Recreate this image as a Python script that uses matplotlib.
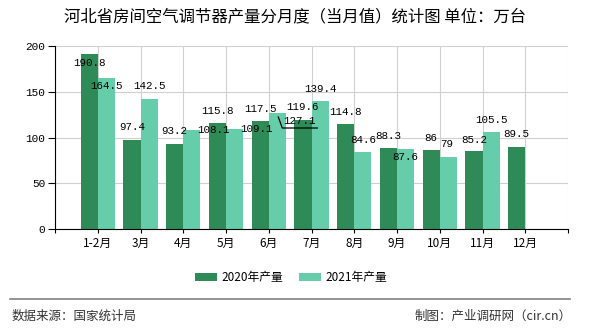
import matplotlib
matplotlib.use("Agg")
import matplotlib.pyplot as plt
import matplotlib.transforms as mtransforms
from matplotlib.patches import Patch
from matplotlib.lines import Line2D

plt.rcParams['font.family'] = ['Noto Sans CJK SC', 'DejaVu Sans']

# ---- data ----
categories = ["1-2月", "3月", "4月", "5月", "6月", "7月", "8月", "9月", "10月", "11月", "12月"]
prod_2020 = [190.8, 97.4, 93.2, 115.8, 117.5, 119.6, 114.8, 88.3, 86, 85.2, 89.5]
prod_2021 = [164.5, 142.5, 108.1, 109.1, 127.1, 139.4, 84.6, 87.6, 79, 105.5, None]
series_names = ["2020年产量", "2021年产量"]
title = "河北省房间空气调节器产量分月度（当月值）统计图 单位：万台"
source_left = "数据来源：国家统计局"
source_right = "制图：产业调研网（cir.cn）"

# label offsets in pixels (dx, dy) relative to bar top centre
off_2020 = [(0, -9), (0, 13), (0, 13), (0, 12), (0, 12.5), (0, 13), (0, 12), (0, 12.5), (0, 12), (0, 11), (0, 13)]
off_2021 = [(0, -8), (0, 12.6), (21.5, 0), (22, 0), (22, -8.3), (0, 12), (0, 12), (0, -8.5), (-2, 12.4), (0, 12.5), None]

c2020 = "#2E8B57"
c2021 = "#66CDAA"

DPI = 100
fig = plt.figure(figsize=(5.9, 3.3), dpi=DPI)
ax = fig.add_axes([55 / 590, 101 / 330, 513 / 590, 183 / 330])

x = list(range(len(categories)))
w = 0.4
ax.bar([i - w / 2 for i in x], prod_2020, width=w, color=c2020, zorder=2)
x21 = [i for i, v in zip(x, prod_2021) if v is not None]
v21 = [v for v in prod_2021 if v is not None]
ax.bar([i + w / 2 for i in x21], v21, width=w, color=c2021, zorder=2)

ax.set_xlim(-1, 11)
ax.set_ylim(0, 200)
ax.set_yticks([0, 50, 100, 150, 200])
ax.set_xticks(list(range(-1, 12)))
ax.set_xticklabels([""] + categories + [""], fontsize=8.5)
ax.tick_params(axis='x', length=3, width=0.8, pad=3, colors='black')
ax.tick_params(axis='y', length=5, width=0.8, pad=2, colors='black')
for lab in ax.get_yticklabels():
    lab.set_family(['Liberation Mono', 'DejaVu Sans'])
    lab.set_fontsize(8)

ax.grid(True, color='#d0d0d0', linewidth=0.8, zorder=0)
ax.set_axisbelow(True)
for s in ['top', 'right']:
    ax.spines[s].set_visible(False)
ax.spines['left'].set_color('black')
ax.spines['bottom'].set_color('black')
ax.spines['left'].set_linewidth(0.8)
ax.spines['bottom'].set_linewidth(0.8)

lab_font = dict(family=['Liberation Mono', 'DejaVu Sans'], fontsize=7.8, color='black')

def fmt(v):
    return ("%g" % v)

for i, (v, o) in enumerate(zip(prod_2020, off_2020)):
    ax.annotate(fmt(v), xy=(i - w / 2, v), xytext=(o[0] * 0.72, o[1] * 0.72),
                textcoords='offset points', ha='center', va='center', zorder=5, **lab_font)
for i, (v, o) in enumerate(zip(prod_2021, off_2021)):
    if v is None:
        continue
    ax.annotate(fmt(v), xy=(i + w / 2, v), xytext=(o[0] * 0.72, o[1] * 0.72),
                textcoords='offset points', ha='center', va='center', zorder=5, **lab_font)

# leader line for 6月 2021 label
i6 = 4
trans = fig.dpi_scale_trans + mtransforms.ScaledTranslation(i6 + w / 2, prod_2021[i6], ax.transData)
px = [1, 5, 40]
py = [-4.3, -15.3, -15.3]
ax.add_line(Line2D([p / DPI for p in px], [p / DPI for p in py], transform=trans,
                   color='black', linewidth=0.9, clip_on=False, zorder=6))

fig.text(0.5, 1 - 17 / 330, title, ha='center', va='center', fontsize=11.8, color='black')

handles = [Patch(facecolor=c2020), Patch(facecolor=c2021)]
fig.legend(handles, series_names, loc='center', bbox_to_anchor=(291 / 590, 1 - 277.5 / 330),
           ncol=2, frameon=False, fontsize=8.5, handlelength=1.9, handleheight=0.75,
           handletextpad=0.35, columnspacing=1.3)

fig.add_artist(Line2D([10 / 590, 570 / 590], [1 - 298.5 / 330] * 2, transform=fig.transFigure,
                      color='#808080', linewidth=1.2))
fig.text(12 / 590, 1 - 316 / 330, source_left, ha='left', va='center', fontsize=9, color='#333333')
fig.text(572 / 590, 1 - 316 / 330, source_right, ha='right', va='center', fontsize=9, color='#333333')

fig.savefig("out.png", dpi=DPI)
